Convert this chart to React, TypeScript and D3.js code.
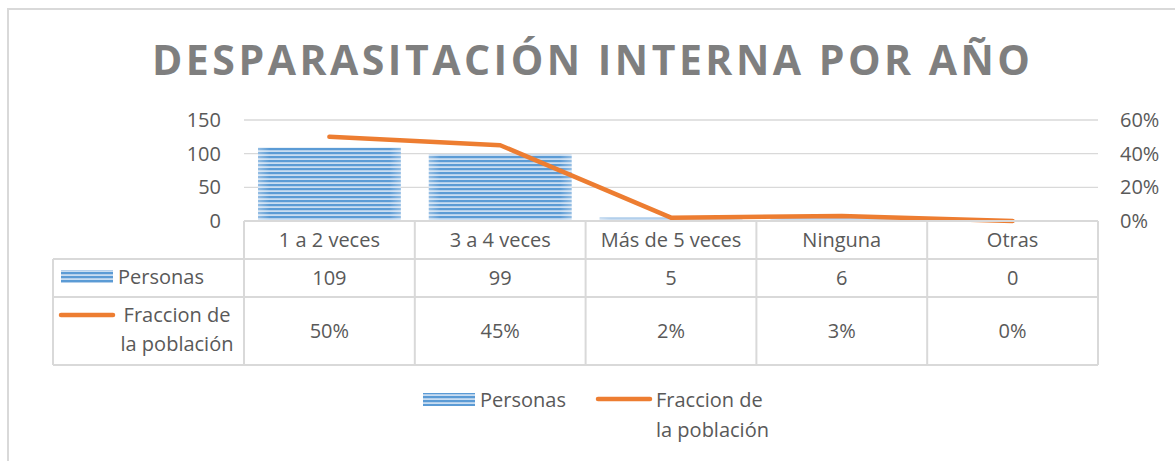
import React from "react";
import * as d3 from "d3";

const categories = ["1 a 2 veces", "3 a 4 veces", "Más de 5 veces", "Ninguna", "Otras"];
const personas = [109, 99, 5, 6, 0];
const fraccion = [0.5, 0.45, 0.02, 0.03, 0];
const fraccionLabels = ["50%", "45%", "2%", "3%", "0%"];
const leftTicks = [0, 50, 100, 150];
const rightTicks = [0, 0.2, 0.4, 0.6];
const title = "DESPARASITACIÓN INTERNA POR AÑO";
const seriesNames = ["Personas", "Fraccion de", "la población"];

const W = 1175;
const H = 461;
const FONT = "'Open Sans', Lato, sans-serif";
const TFONT = "'Open Sans', Lato, sans-serif";
const FS = 20;
const TXT = "#595959";
const GRID = "#d9d9d9";
const BLUE = "#5b9bd5";
const ORANGE = "#ed7d31";

export default function App() {
  const plotL = 244, plotR = 1098, plotT = 120, plotB = 221;
  const x = d3.scaleBand<string>().domain(categories).range([plotL, plotR]).paddingInner(0.164).paddingOuter(0.082);
  const colW = (plotR - plotL) / categories.length;
  const colX = (i: number) => plotL + i * colW;
  const yL = d3.scaleLinear().domain([0, 150]).range([plotB, plotT]);
  const yR = d3.scaleLinear().domain([0, 0.6]).range([plotB, plotT]);
  const line = d3
    .line<number>()
    .x((_, i) => (x(categories[i]) as number) + x.bandwidth() / 2)
    .y((d) => yR(d));

  const row1T = 221, row1B = 259, row2B = 297, row3B = 365;
  const tableL = 53;

  return (
    <svg width={W} height={H} style={{ position: "absolute", left: 0, top: 0 }} fontFamily={FONT}>
      <defs>
        <pattern id="stripes" patternUnits="userSpaceOnUse" width="8" height="4">
          <rect x="0" y="0" width="8" height="4" fill="#c9ddf1" />
          <rect x="0" y="0" width="8" height="2.2" fill={BLUE} />
        </pattern>
        <linearGradient id="edge" x1="0" x2="1" y1="0" y2="0">
          <stop offset="0" stopColor="#fff" stopOpacity="0.35" />
          <stop offset="0.08" stopColor="#fff" stopOpacity="0" />
          <stop offset="0.92" stopColor="#fff" stopOpacity="0" />
          <stop offset="1" stopColor="#fff" stopOpacity="0.35" />
        </linearGradient>
      </defs>
      <rect x={0} y={0} width={W} height={H} fill="#fff" />
      <rect x={8} y={9} width={W + 20} height={H + 20} fill="none" stroke={GRID} strokeWidth={2} />

      <text x={152} y={75} fontSize={41} fontWeight="bold" fill="#7f7f7f" fontFamily={TFONT} textLength={878} lengthAdjust="spacing">
        {title}
      </text>

      {/* gridlines */}
      {leftTicks.slice(1).map((t) => (
        <line key={t} x1={plotL} x2={plotR} y1={yL(t)} y2={yL(t)} stroke={GRID} strokeWidth={1.3} />
      ))}
      {leftTicks.map((t) => (
        <text key={"l" + t} x={221} y={yL(t)} dy="0.35em" textAnchor="end" fontSize={FS} fill={TXT}>
          {t}
        </text>
      ))}
      {rightTicks.map((t) => (
        <text key={"r" + t} x={1120} y={yR(t)} dy="0.35em" textAnchor="start" fontSize={FS} fill={TXT}>
          {Math.round(t * 100) + "%"}
        </text>
      ))}

      {/* bars */}
      {personas.map((v, i) => {
        const bx = x(categories[i]) as number;
        const h = plotB - yL(v);
        return (
          <g key={i}>
            <rect x={bx} y={yL(v)} width={x.bandwidth()} height={h} fill="url(#stripes)" />
            <rect x={bx} y={yL(v)} width={x.bandwidth()} height={h} fill="url(#edge)" />
          </g>
        );
      })}

      {/* line */}
      <path d={line(fraccion) || ""} fill="none" stroke={ORANGE} strokeWidth={4.5} strokeLinecap="round" strokeLinejoin="round" />

      {/* table */}
      <g stroke={GRID} strokeWidth={2} fill="none">
        <line x1={plotL} x2={plotR} y1={row1T} y2={row1T} />
        <line x1={tableL} x2={plotR} y1={row1B} y2={row1B} />
        <line x1={tableL} x2={plotR} y1={row2B} y2={row2B} />
        <line x1={tableL} x2={plotR} y1={row3B} y2={row3B} />
        <line x1={tableL} x2={tableL} y1={row1B} y2={row3B} />
        {categories.map((_, i) => (
          <line key={i} x1={colX(i)} x2={colX(i)} y1={row1T} y2={row3B} />
        ))}
        <line x1={plotR} x2={plotR} y1={row1T} y2={row3B} />
      </g>
      {categories.map((c, i) => (
        <g key={c} fontSize={FS} fill={TXT} textAnchor="middle">
          <text x={colX(i) + colW / 2} y={(row1T + row1B) / 2} dy="0.35em">{c}</text>
          <text x={colX(i) + colW / 2} y={(row1B + row2B) / 2} dy="0.35em">{personas[i]}</text>
          <text x={colX(i) + colW / 2} y={(row2B + row3B) / 2} dy="0.35em">{fraccionLabels[i]}</text>
        </g>
      ))}
      {/* row headers */}
      <rect x={61} y={270} width={52} height={13} fill="url(#stripes)" />
      <text x={118} y={277} dy="0.35em" fontSize={FS} fill={TXT}>{seriesNames[0]}</text>
      <line x1={61} x2={113} y1={315} y2={315} stroke={ORANGE} strokeWidth={4.5} strokeLinecap="round" />
      <text x={177} y={315} dy="0.35em" fontSize={FS} fill={TXT} textAnchor="middle">{seriesNames[1]}</text>
      <text x={177} y={344} dy="0.35em" fontSize={FS} fill={TXT} textAnchor="middle">{seriesNames[2]}</text>

      {/* legend */}
      <rect x={423} y={393} width={52} height={13} fill="url(#stripes)" />
      <text x={480} y={400} dy="0.35em" fontSize={FS} fill={TXT}>{seriesNames[0]}</text>
      <line x1={598} x2={650} y1={399} y2={399} stroke={ORANGE} strokeWidth={4.5} strokeLinecap="round" />
      <text x={656} y={400} dy="0.35em" fontSize={FS} fill={TXT}>{seriesNames[1]}</text>
      <text x={656} y={430} dy="0.35em" fontSize={FS} fill={TXT}>{seriesNames[2]}</text>
    </svg>
  );
}
